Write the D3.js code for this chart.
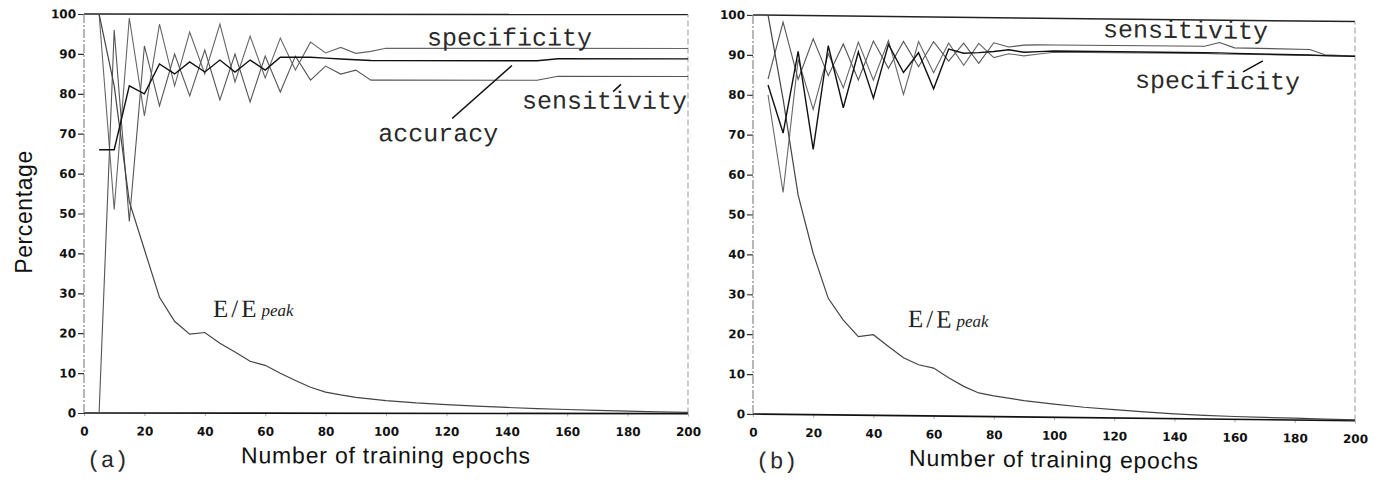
<!DOCTYPE html>
<html>
<head>
<meta charset="utf-8">
<script src="https://cdn.jsdelivr.net/npm/d3@7"></script>
<style>
  body { margin: 0; background: #fff; }
  svg { display: block; }
  .tick text { font-family: "DejaVu Sans", sans-serif; font-weight: bold; font-size: 12px; fill: #111; }
  .mono { font-family: "Liberation Mono", "Courier New", monospace; fill: #2a2a2a; }
  .title { font-family: "Liberation Sans", Arial, sans-serif; fill: #111; }
</style>
</head>
<body>
<div id="chart"></div>
<script>
// ---- data ----
var yTicks = [0, 10, 20, 30, 40, 50, 60, 70, 80, 90, 100];
var xTicks = [0, 20, 40, 60, 80, 100, 120, 140, 160, 180, 200];

// panel (a)
var epochsA = [5,10,15,20,25,30,35,40,45,50,55,60,65,70,75,80,85,90,95,100,150,157,200];
var accuracyA = [66,66,82,80,87.5,85,88,85.5,88.5,85.5,88.5,86,89.2,89.2,89.2,89,88.8,88.6,88.4,88.4,88.4,88.9,88.9];
var specificityA = [100,51,99,74.5,97.5,82,95.5,85,97.5,83,94.5,84,94,86,93,90.3,91.7,90.2,90.7,91.5,91.5,91.5,91.5];
var sensitivityA = [0,96,48,92,77,90,79.5,91,78.5,90,78,89.5,80.5,89.5,83.5,87,85,86,83.5,83.5,83.5,84.5,84.5];
var energyEpochsA = [5,10,15,20,25,30,35,40,45,50,55,60,65,70,75,80,85,90,100,110,120,130,140,150,160,170,180,190,200];
var energyA = [100,82,53,41,29,23,19.8,20.2,17.5,15.3,13,12,10,8.2,6.5,5.3,4.6,4,3.2,2.6,2.2,1.8,1.5,1.2,1.0,0.8,0.6,0.45,0.3];

// panel (b)
var epochsB = [5,10,15,20,25,30,35,40,45,50,55,60,65,70,75,80,85,90,95,100,150,155,160,185,190,200];
var accuracyB = [82.5,70.5,91,66.5,92.5,77,91,79.5,93,86,91,82,92,91,91.2,91.5,92,91.4,91.6,91.8,91.8,91.8,91.7,91.5,91.4,91.3];
var sensitivityB = [84,98.3,84,94.2,85,93,84,93.8,87,93.8,87.5,93.8,89,93.5,88.5,93.7,92.7,93.2,93.3,93.3,93.4,94.4,93.1,92.9,91.6,91.4];
var specificityB = [80,55.6,89,76.5,90.5,82,93.5,84,94,80.5,93.8,86,93.5,88,93.5,90,91,90.5,91,91.5,91.6,91.5,91.5,91.4,91.4,91.3];
var energyEpochsB = [5,10,15,20,25,30,35,40,45,50,55,60,65,70,75,80,90,100,110,120,130,140,150,160,170,180,190,200];
var energyB = [100,79,55,40.4,29.2,23.8,19.7,20.2,17.3,14.5,12.8,12,9.6,7.5,5.9,5.2,4.1,3.3,2.6,2.1,1.6,1.2,0.9,0.7,0.55,0.45,0.3,0.2];

var W = 1386, H = 488;
var svg = d3.select('#chart').append('svg').attr('width', W).attr('height', H);

var panels = [
  { tag: '(a)', x0: 84, x1: 688, y0: 413, y1: 14, skew: 0.001,
    epochs: epochsA, acc: accuracyA, spec: specificityA, sens: sensitivityA,
    eEpochs: energyEpochsA, energy: energyA,
    notes: [
      { t: 'specificity', ep: 113.6, v: 92.2 },
      { t: 'sensitivity', ep: 145, v: 76.4 },
      { t: 'accuracy', ep: 97.4, v: 68.2 }
    ],
    leaders: [[121.9, 73.9, 141.7, 87.2], [175.2, 80.7, 177.8, 82.5]],
    eLabel: { ep: 42.7, v: 24.1 },
    yTitle: true },
  { tag: '(b)', x0: 753, x1: 1355, y0: 414, y1: 15, skew: 0.011,
    epochs: epochsB, acc: accuracyB, spec: specificityB, sens: sensitivityB,
    eEpochs: energyEpochsB, energy: energyB,
    notes: [
      { t: 'sensitivity', ep: 116.3, v: 95.4 },
      { t: 'specificity', ep: 126.9, v: 82.8 }
    ],
    leaders: [[162.8, 87.1, 169.4, 89.9]],
    eLabel: { ep: 51.5, v: 22.2 },
    yTitle: false }
];

panels.forEach(function(p) {
  // scanned page is slightly sheared, keep that
  var g = svg.append('g')
    .attr('transform', 'matrix(1,' + p.skew + ',0,1,0,' + (-p.skew * p.x0) + ')');

  var x = d3.scaleLinear().domain([0, 200]).range([p.x0, p.x1]);
  var y = d3.scaleLinear().domain([0, 100]).range([p.y0, p.y1]);

  // axes
  var ya = g.append('g')
    .attr('transform', 'translate(' + p.x0 + ',0)')
    .call(d3.axisLeft(y).tickValues(yTicks).tickSize(6).tickPadding(2));
  ya.select('.domain').remove();
  ya.selectAll('.tick line').attr('stroke', '#333').attr('stroke-width', 1.2);

  var xa = g.append('g')
    .attr('transform', 'translate(0,' + p.y0 + ')')
    .call(d3.axisBottom(x).tickValues(xTicks).tickSize(3).tickPadding(11));
  xa.select('.domain').remove();
  xa.selectAll('.tick line').attr('stroke', '#aaa');

  // frame
  g.append('line').attr('x1', x(0)).attr('x2', x(200)).attr('y1', y(100)).attr('y2', y(100))
    .attr('stroke', '#222').attr('stroke-width', 1.5);
  g.append('line').attr('x1', x(0)).attr('x2', x(200)).attr('y1', y(0)).attr('y2', y(0))
    .attr('stroke', '#111').attr('stroke-width', 1.6);
  g.append('line').attr('x1', x(0)).attr('x2', x(0)).attr('y1', y(0)).attr('y2', y(100))
    .attr('stroke', '#888').attr('stroke-width', 1.2).attr('stroke-dasharray', '9,2,2,2');
  g.append('line').attr('x1', x(200)).attr('x2', x(200)).attr('y1', y(0)).attr('y2', y(100))
    .attr('stroke', '#aaa').attr('stroke-width', 1.2).attr('stroke-dasharray', '6,3');

  var line = d3.line().x(function(d) { return x(d[0]); }).y(function(d) { return y(d[1]); });

  g.append('path').datum(d3.zip(p.epochs, p.spec)).attr('d', line)
    .attr('fill', 'none').attr('stroke', '#666').attr('stroke-width', 1.1);
  g.append('path').datum(d3.zip(p.epochs, p.sens)).attr('d', line)
    .attr('fill', 'none').attr('stroke', '#555').attr('stroke-width', 1.1);
  g.append('path').datum(d3.zip(p.eEpochs, p.energy)).attr('d', line)
    .attr('fill', 'none').attr('stroke', '#444').attr('stroke-width', 1.2);
  g.append('path').datum(d3.zip(p.epochs, p.acc)).attr('d', line)
    .attr('fill', 'none').attr('stroke', '#111').attr('stroke-width', 1.4);

  // annotations
  p.notes.forEach(function(n) {
    g.append('text').attr('class', 'mono').attr('x', x(n.ep)).attr('y', y(n.v))
      .style('font-size', '25px').text(n.t);
  });
  p.leaders.forEach(function(l) {
    g.append('line').attr('x1', x(l[0])).attr('y1', y(l[1])).attr('x2', x(l[2])).attr('y2', y(l[3]))
      .attr('stroke', '#111').attr('stroke-width', 1.6);
  });

  var et = g.append('text').attr('x', x(p.eLabel.ep)).attr('y', y(p.eLabel.v))
    .style('font-family', '"Liberation Serif", "Times New Roman", serif')
    .style('fill', '#222');
  et.append('tspan').style('font-size', '25px').style('letter-spacing', '3px').text('E/E');
  et.append('tspan').attr('dx', 2).attr('dy', -1)
    .style('font-size', '17px').style('font-style', 'italic').text('peak');

  // titles
  g.append('text').attr('class', 'title')
    .attr('x', (p.x0 + p.x1) / 2).attr('y', p.y0 + 50)
    .attr('text-anchor', 'middle').style('font-size', '23px').style('letter-spacing', '0.8px')
    .text('Number of training epochs');

  g.append('text').attr('class', 'mono')
    .attr('x', p.x0 + 3).attr('y', p.y0 + 54)
    .style('font-size', '23px').text(p.tag);

  if (p.yTitle) {
    svg.append('text').attr('class', 'title')
      .attr('transform', 'translate(32,212) rotate(-90)')
      .attr('text-anchor', 'middle').style('font-size', '23px').style('letter-spacing', '0.6px')
      .text('Percentage');
  }
});
</script>
</body>
</html>
